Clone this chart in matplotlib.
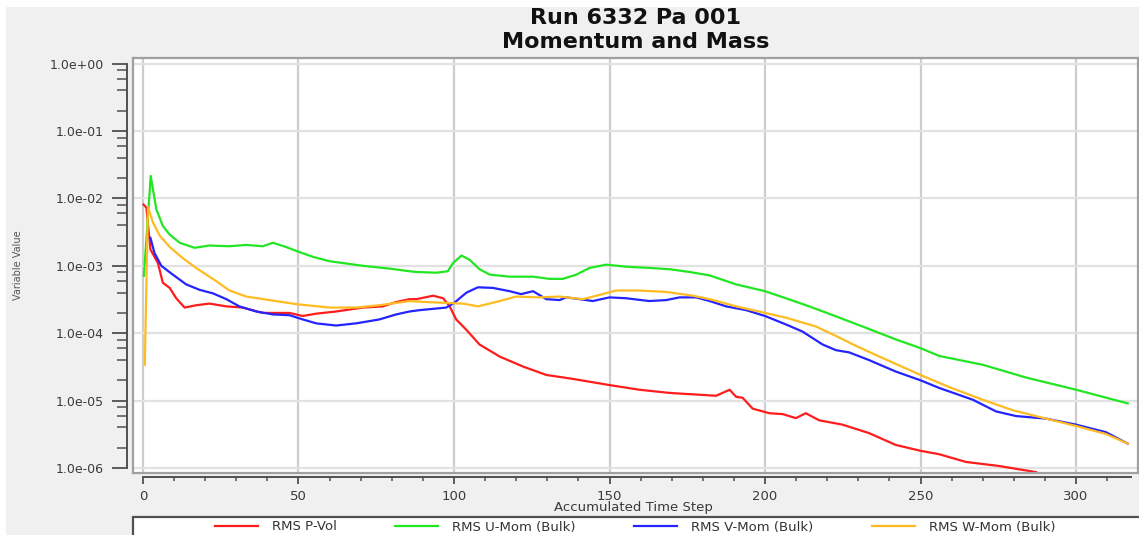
import matplotlib
matplotlib.use("Agg")
import matplotlib.pyplot as plt
from matplotlib.patches import Rectangle
from matplotlib.lines import Line2D
from matplotlib.ticker import LogLocator, MultipleLocator, FuncFormatter, NullFormatter

# ---- residual histories -------------------------------------------------
p_vol_x = [0.2, 1.1, 2.4, 4.8, 6.4, 8.6, 10.7, 13.4, 17.1, 21.4, 26.8, 32.1, 38.5,
           43.9, 47.1, 51.4, 55.7, 62.1, 70.7, 77.1, 81.4, 85.7, 87.9, 93.3, 96.5,
           98.6, 100.7, 104, 108.2, 114.7, 122.2, 129.7, 138.2, 150, 159.6, 169.3,
           177.9, 184.3, 188.6, 190.7, 192.8, 196, 201.4, 205.7, 209.9, 213.1, 217.4,
           224.9, 233.4, 242, 250, 256, 264.6, 275.3, 287.1]
p_vol_y = [8.1e-3, 7.3e-3, 1.75e-3, 1.1e-3, 5.6e-4, 4.7e-4, 3.3e-4, 2.4e-4, 2.6e-4,
           2.75e-4, 2.5e-4, 2.4e-4, 2.0e-4, 2.0e-4, 2.0e-4, 1.8e-4, 1.95e-4, 2.1e-4,
           2.4e-4, 2.5e-4, 2.9e-4, 3.2e-4, 3.2e-4, 3.6e-4, 3.3e-4, 2.5e-4, 1.6e-4,
           1.12e-4, 6.8e-5, 4.5e-5, 3.2e-5, 2.4e-5, 2.1e-5, 1.7e-5, 1.45e-5, 1.3e-5,
           1.23e-5, 1.18e-5, 1.45e-5, 1.14e-5, 1.1e-5, 7.6e-6, 6.5e-6, 6.3e-6, 5.5e-6,
           6.5e-6, 5.1e-6, 4.4e-6, 3.3e-6, 2.2e-6, 1.8e-6, 1.6e-6, 1.23e-6, 1.07e-6,
           8.7e-7]

u_mom_x = [0.3, 2.5, 4.3, 6.4, 8.6, 11.8, 16.6, 21.4, 27.8, 33.2, 38.5, 41.8, 46,
           50.3, 54.6, 60, 70.7, 79.2, 85.7, 87.9, 94.3, 98, 99.7, 102.4, 105, 108.2,
           111.5, 117.9, 125.4, 130.7, 135, 139.3, 143.6, 148.9, 155.4, 162.8, 169.3,
           175.7, 182.2, 190.7, 200, 206.7, 214.2, 222.8, 231.3, 242, 250, 256, 270,
           283.9, 300, 316.6]
u_mom_y = [7.1e-4, 2.15e-2, 6.9e-3, 3.9e-3, 2.9e-3, 2.2e-3, 1.85e-3, 2.0e-3, 1.95e-3,
           2.04e-3, 1.95e-3, 2.2e-3, 1.9e-3, 1.6e-3, 1.36e-3, 1.17e-3, 1.0e-3, 9.1e-4,
           8.3e-4, 8.1e-4, 7.9e-4, 8.3e-4, 1.1e-3, 1.42e-3, 1.23e-3, 8.9e-4, 7.4e-4,
           6.9e-4, 6.9e-4, 6.4e-4, 6.4e-4, 7.4e-4, 9.3e-4, 1.04e-3, 9.7e-4, 9.3e-4,
           8.9e-4, 8.1e-4, 7.2e-4, 5.3e-4, 4.2e-4, 3.3e-4, 2.5e-4, 1.78e-4, 1.26e-4,
           8.1e-5, 6.0e-5, 4.6e-5, 3.4e-5, 2.2e-5, 1.45e-5, 9.1e-6]

v_mom_x = [2.4, 3.7, 5.9, 9.6, 13.9, 18.2, 22.5, 26.8, 31, 36.4, 41.8, 47.1, 51.4,
           55.7, 62.1, 68.5, 76, 81.4, 85.7, 89, 97.5, 100, 104, 107.7, 112.5, 117.9,
           121.6, 125.4, 129.7, 133.9, 136.1, 140.4, 144.6, 150, 155.4, 162.8, 168.2,
           172.5, 177.9, 182.2, 187.5, 193.9, 200, 206.7, 212, 218.5, 222.8, 227,
           233.4, 242, 250, 256, 266.8, 274.3, 280.7, 290.4, 300, 309.6, 316.6]
v_mom_y = [2.6e-3, 1.55e-3, 1.0e-3, 7.4e-4, 5.3e-4, 4.4e-4, 3.9e-4, 3.2e-4, 2.5e-4,
           2.1e-4, 1.9e-4, 1.85e-4, 1.6e-4, 1.4e-4, 1.3e-4, 1.4e-4, 1.6e-4, 1.9e-4,
           2.1e-4, 2.2e-4, 2.4e-4, 2.8e-4, 4.0e-4, 4.8e-4, 4.7e-4, 4.2e-4, 3.8e-4,
           4.2e-4, 3.2e-4, 3.1e-4, 3.4e-4, 3.2e-4, 3.0e-4, 3.4e-4, 3.3e-4, 3.0e-4,
           3.1e-4, 3.4e-4, 3.4e-4, 3.0e-4, 2.5e-4, 2.2e-4, 1.8e-4, 1.35e-4, 1.06e-4,
           6.8e-5, 5.6e-5, 5.2e-5, 4.0e-5, 2.7e-5, 2.0e-5, 1.54e-5, 1.03e-5, 6.9e-6,
           5.9e-6, 5.4e-6, 4.4e-6, 3.4e-6, 2.3e-6]

w_mom_x = [0.6, 1.6, 3.2, 5.4, 8.6, 12.8, 17.1, 23.6, 27.8, 33.2, 40.7, 49.3, 60,
           68.5, 76, 85.7, 91.1, 98.6, 102.9, 107.7, 114.7, 120, 127.5, 133.9, 141.4,
           146.8, 152.1, 159.6, 168.2, 176.8, 182.2, 190.7, 200, 206.7, 216.3, 222.8,
           229.2, 237.7, 250, 259, 270, 279.6, 290.4, 300, 309.6, 316.6]
w_mom_y = [3.4e-5, 7.5e-3, 4.4e-3, 2.8e-3, 1.9e-3, 1.3e-3, 9.3e-4, 5.9e-4, 4.3e-4,
           3.5e-4, 3.1e-4, 2.7e-4, 2.4e-4, 2.4e-4, 2.6e-4, 3.0e-4, 2.9e-4, 2.8e-4,
           2.75e-4, 2.5e-4, 3.0e-4, 3.5e-4, 3.4e-4, 3.5e-4, 3.2e-4, 3.7e-4, 4.3e-4,
           4.3e-4, 4.1e-4, 3.6e-4, 3.2e-4, 2.5e-4, 2.0e-4, 1.7e-4, 1.26e-4, 9.1e-5,
           6.5e-5, 4.3e-5, 2.4e-5, 1.6e-5, 1.03e-5, 7.2e-6, 5.4e-6, 4.2e-6, 3.2e-6,
           2.3e-6]

series_names = ["RMS P-Vol", "RMS U-Mom (Bulk)", "RMS V-Mom (Bulk)", "RMS W-Mom (Bulk)"]
series_colors = ["#ff1c1c", "#22e622", "#2424ff", "#ffbb22"]
title_lines = ["Run 6332 Pa 001", "Momentum and Mass"]
x_label = "Accumulated Time Step"
y_label = "Variable Value"

# ---- figure layout (pixel based) -----------------------------------------
W, H = 1139, 535
fig = plt.figure(figsize=(W / 100, H / 100), dpi=100)
fig.patch.set_facecolor("white")


def fx(px):
    return px / W


def fy(py):
    return 1 - py / H


# light grey window background
fig.add_artist(Rectangle((fx(6), 0), 1, fy(7), transform=fig.transFigure,
                         facecolor="#f0f0f0", edgecolor="none", zorder=-5))

box = [fx(133), fy(473), fx(1138) - fx(133), fy(57.5) - fy(473)]
xlim = (-3.2, 319.9)
ylim = (10 ** -6.074, 10 ** 0.0905)

ax = fig.add_axes(box)
ax.set_facecolor("white")
ax.set_yscale("log")
ax.set_xlim(*xlim)
ax.set_ylim(*ylim)
ax.xaxis.set_major_locator(MultipleLocator(50))
ax.yaxis.set_major_locator(LogLocator(base=10, numticks=20))
ax.yaxis.set_minor_locator(LogLocator(base=10, subs=(2, 4, 6, 8), numticks=20))
ax.tick_params(which="both", left=False, bottom=False, labelleft=False, labelbottom=False)
ax.grid(True, axis="x", which="major", color="#cdcdcd", lw=1.6)
ax.grid(True, axis="y", which="major", color="#e2e2e2", lw=1.6)
ax.grid(False, which="minor")
for s in ax.spines.values():
    s.set_color("#a0a0a0")
    s.set_linewidth(1.6)

xs = [p_vol_x, u_mom_x, v_mom_x, w_mom_x]
ys = [p_vol_y, u_mom_y, v_mom_y, w_mom_y]
for x, y, c in zip(xs, ys, series_colors):
    ax.plot(x, y, color=c, lw=1.6, solid_joinstyle="round")

# detached axis lines with ticks
axis_ax = fig.add_axes(box)
axis_ax.patch.set_visible(False)
axis_ax.set_yscale("log")
axis_ax.set_xlim(*xlim)
axis_ax.set_ylim(*ylim)
axis_ax.spines["top"].set_visible(False)
axis_ax.spines["right"].set_visible(False)
axis_ax.spines["left"].set_position(("outward", 4.3))
axis_ax.spines["bottom"].set_position(("outward", 3.0))
axis_ax.spines["left"].set_bounds(1e-6, 1.0)
axis_ax.spines["bottom"].set_bounds(0, 317.5)
for side in ("left", "bottom"):
    axis_ax.spines[side].set_color("#505050")
    axis_ax.spines[side].set_linewidth(1.4)

axis_ax.yaxis.set_major_locator(LogLocator(base=10, numticks=20))
axis_ax.yaxis.set_minor_locator(LogLocator(base=10, subs=(2, 4, 6, 8), numticks=20))
axis_ax.yaxis.set_major_formatter(FuncFormatter(lambda v, _: f"{v:.1e}"))
axis_ax.yaxis.set_minor_formatter(NullFormatter())
axis_ax.xaxis.set_major_locator(MultipleLocator(50))
axis_ax.xaxis.set_minor_locator(MultipleLocator(10))

axis_ax.tick_params(axis="y", which="major", direction="out", length=10.5, width=1.3,
                    color="#505050", pad=6, labelsize=9, labelcolor="#3a3a3a")
axis_ax.tick_params(axis="y", which="minor", direction="out", length=7, width=1.1,
                    color="#505050")
axis_ax.tick_params(axis="x", which="major", direction="out", length=5, width=1.3,
                    color="#505050", pad=4, labelsize=9.5, labelcolor="#3a3a3a")
axis_ax.tick_params(axis="x", which="minor", direction="out", length=3.2, width=1.1,
                    color="#505050")

# ---- texts ----------------------------------------------------------------
fig.text(fx(636), fy(18), title_lines[0], ha="center", va="center",
         fontsize=16, fontweight="bold", color="#111111")
fig.text(fx(636), fy(42), title_lines[1], ha="center", va="center",
         fontsize=16, fontweight="bold", color="#111111")
fig.text(fx(633), fy(507), x_label, ha="center", va="center",
         fontsize=9.5, color="#3a3a3a")
fig.text(fx(18), fy(265), y_label, ha="center", va="center", rotation=90,
         fontsize=7, color="#555555")

# ---- legend ---------------------------------------------------------------
fig.add_artist(Rectangle((fx(133), -0.05), 1, fy(517) + 0.05, transform=fig.transFigure,
                         facecolor="white", edgecolor="#505050", lw=1.6, zorder=1))
handles = [Line2D([], [], color=c, lw=1.6) for c in series_colors]
fig.legend(handles, series_names, loc="center", mode="expand",
           bbox_to_anchor=(fx(215), fy(534), fx(1055) - fx(215), fy(520) - fy(534)),
           bbox_transform=fig.transFigure, ncol=4, frameon=False, fontsize=9.5,
           borderpad=0, borderaxespad=0,
           handlelength=3.25, handletextpad=1.05, columnspacing=2.0,
           labelcolor="#333333")

fig.savefig("out.png", dpi=100, facecolor=fig.get_facecolor())
